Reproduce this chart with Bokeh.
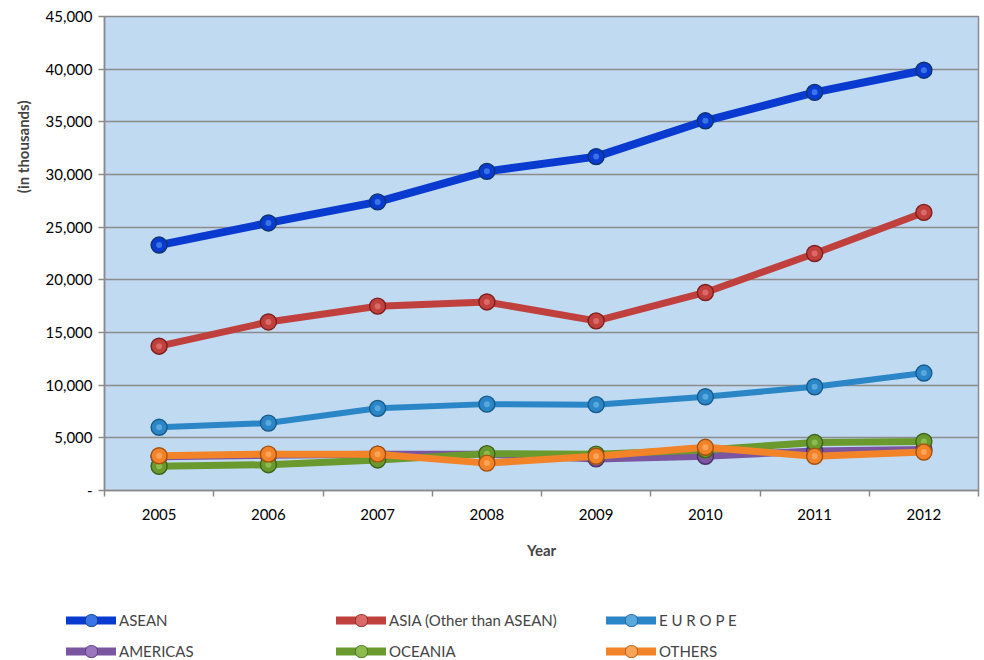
from bokeh.plotting import figure
from bokeh.layouts import column
from bokeh.models import (FixedTicker, CustomJSTickFormatter, Range1d, Legend, LegendItem, Title)
from bokeh.embed import file_html
from bokeh.resources import INLINE

years = ["2005", "2006", "2007", "2008", "2009", "2010", "2011", "2012"]
asean = [23300, 25400, 27400, 30300, 31700, 35100, 37800, 39900]
asia = [13700, 16000, 17500, 17900, 16100, 18800, 22500, 26400]
europe = [6000, 6400, 7800, 8200, 8150, 8900, 9850, 11150]
americas = [3200, 3350, 3450, 3450, 3000, 3250, 3750, 3900]
oceania = [2300, 2450, 2900, 3500, 3450, 3850, 4550, 4650]
others = [3300, 3450, 3450, 2600, 3250, 4100, 3250, 3650]
y_ticks = [0, 5000, 10000, 15000, 20000, 25000, 30000, 35000, 40000, 45000]

series = [
    ("ASEAN", asean, "#0A3BD0", "#0B3470", "#4F8DF0", 8),
    ("ASIA (Other than ASEAN)", asia, "#C0403D", "#7E1F1D", "#E57C79", 7),
    ("E U R O P E", europe, "#2A86C6", "#175B8C", "#6CB6E8", 6),
    ("AMERICAS", americas, "#7A55A0", "#4C3068", "#A985CC", 7),
    ("OCEANIA", oceania, "#6A9A2E", "#3F6318", "#9CCB5C", 7),
    ("OTHERS", others, "#F28329", "#A5530F", "#FFB16A", 7),
]

FONT = "Lato"
GRAY = "#8A8A8A"
xs = [i + 0.5 for i in range(len(years))]

p = figure(width=980, height=575, output_backend="svg", toolbar_location=None,
           x_range=Range1d(0, len(years)), y_range=Range1d(0, 45000),
           min_border_left=104, min_border_top=16, min_border_right=2, min_border_bottom=85)
p.frame_align = False

p.border_fill_color = "white"
p.background_fill_color = "#C0DAF1"
p.outline_line_color = GRAY
p.outline_line_width = 1.5

p.xgrid.grid_line_color = None
p.ygrid.grid_line_color = "#8C8C8C"
p.ygrid.grid_line_width = 1.5
p.ygrid.ticker = FixedTicker(ticks=y_ticks)

p.yaxis.ticker = FixedTicker(ticks=y_ticks)
p.yaxis.formatter = CustomJSTickFormatter(code="return tick == 0 ? '-' : tick.toLocaleString('en-US');")
p.yaxis.major_label_text_font = FONT
p.yaxis.major_label_text_font_size = "15px"
p.yaxis.major_label_text_color = "black"
p.yaxis.axis_line_color = GRAY
p.yaxis.axis_line_width = 1.5
p.yaxis.major_tick_line_color = GRAY
p.yaxis.major_tick_line_width = 1.5
p.yaxis.major_tick_out = 6
p.yaxis.major_tick_in = 0
p.yaxis.minor_tick_line_color = None
p.yaxis.major_label_standoff = 6

ytitle = Title(text="(in thousands)", align="right", offset=84,
               text_font=FONT, text_font_style="bold", text_font_size="15px",
               standoff=22)
p.add_layout(ytitle, "left")

p.xaxis.ticker = FixedTicker(ticks=xs, minor_ticks=list(range(len(years) + 1)))
p.xaxis.major_label_overrides = {x: y for x, y in zip(xs, years)}
p.xaxis.major_tick_line_color = None
p.xaxis.minor_tick_line_color = GRAY
p.xaxis.minor_tick_out = 6
p.xaxis.minor_tick_in = 0
p.xaxis.minor_tick_line_width = 1.5
p.xaxis.axis_line_color = GRAY
p.xaxis.axis_line_width = 1.5
p.xaxis.major_label_text_font = FONT
p.xaxis.major_label_text_font_size = "15px"
p.xaxis.major_label_text_color = "black"
p.xaxis.major_label_standoff = 12
p.xaxis.axis_label = "Year"
p.xaxis.axis_label_text_font = FONT
p.xaxis.axis_label_text_font_style = "bold"
p.xaxis.axis_label_text_font_size = "15px"
p.xaxis.axis_label_standoff = 18

# legend figure: same series drawn off-range so only the legend shows
q = figure(width=980, height=85, output_backend="svg", toolbar_location=None,
           x_range=Range1d(0, len(years)), y_range=Range1d(-2, -1),
           min_border_left=0, min_border_right=0, min_border_top=0, min_border_bottom=0)
q.frame_align = False
q.axis.visible = False
q.grid.grid_line_color = None
q.outline_line_color = None
q.background_fill_color = "white"
q.border_fill_color = "white"

items = {}
for name, vals, col, dark, light, lw in series:
    p.line(xs, vals, line_color=col, line_width=lw, line_join="round")
    p.scatter(xs, vals, size=16, marker="circle", fill_color=col,
              line_color=dark, line_width=1.4)
    p.scatter(xs, vals, size=6, marker="circle", fill_color=light,
              fill_alpha=0.7, line_color=None)
    ln = q.line(xs, vals, line_color=col, line_width=8, line_cap="round")
    sc = q.scatter(xs, vals, size=14, marker="circle", fill_color=col,
                   line_color=dark, line_width=1.2)
    hl = q.scatter(xs, vals, size=5, marker="circle", fill_color=light,
                   fill_alpha=0.7, line_color=None)
    items[name] = LegendItem(label=name, renderers=[ln, sc, hl])

names = [s[0] for s in series]
# column-major order so rows read: first three / last three
order = [names[0], names[3], names[1], names[4], names[2], names[5]]

legend = Legend(items=[items[n] for n in order], ncols=3, location=(66, -6),
                label_text_font=FONT, label_text_font_size="15px",
                glyph_width=50, glyph_height=30, label_standoff=3,
                label_width=216, label_height=16, spacing=1, padding=0, margin=0,
                border_line_alpha=0, background_fill_alpha=0)
q.add_layout(legend, "center")

layout = column(p, q, spacing=0)
open("out.html", "w").write(file_html(layout, INLINE))
